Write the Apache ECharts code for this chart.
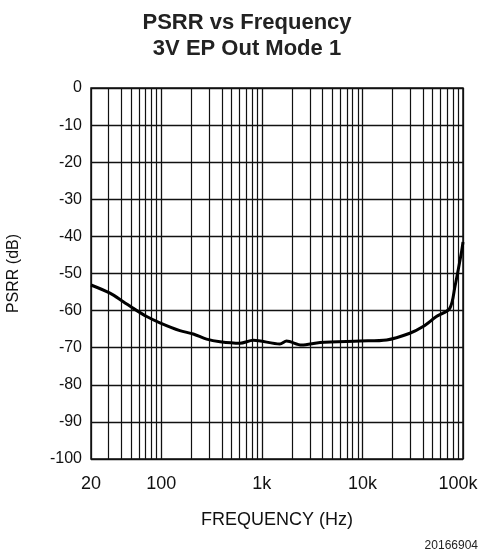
<!DOCTYPE html>
<html><head><meta charset="utf-8">
<script src="https://cdn.jsdelivr.net/npm/echarts@6/dist/echarts.min.js"></script>
<style>html,body{margin:0;padding:0;background:#fff}#c{width:481px;height:559px}</style>
</head><body><div id="c"></div>
<script>
const freq = [20, 30.9, 41.9, 52.7, 71.6, 96.9, 153, 208, 282, 384, 606, 822, 1510, 1761, 2486, 3788, 9420, 17400, 29600, 40100, 54400, 73800, 83200, 96900, 100000];
const psrr = [-53.1, -55.3, -57.6, -59.4, -61.6, -63.3, -65.4, -66.3, -67.7, -68.4, -68.8, -68.0, -69.0, -68.2, -69.3, -68.6, -68.2, -67.9, -66.1, -64.3, -61.6, -59.4, -53.5, -44.0, -41.5];
const minorFreqs = [30,40,50,60,70,80,90,200,300,400,500,600,700,800,900,2000,3000,4000,5000,6000,7000,8000,9000,20000,30000,40000,50000,60000,70000,80000,90000];
const xTickText = {20:'20',100:'100',1000:'1k',10000:'10k',100000:'100k'};
const font = 'Liberation Sans, Arial, Helvetica, sans-serif';

const chart = echarts.init(document.getElementById('c'), null, {renderer:'canvas'});
chart.setOption({
  animation:false,
  backgroundColor:'#fff',
  title:{
    text:'PSRR vs Frequency\n3V EP Out Mode 1',
    left:242, top:5, textAlign:'center',
    textStyle:{fontFamily:font, fontSize:22, fontWeight:'bold', color:'#222', lineHeight:26}
  },
  graphic:[{type:'text', right:3, top:540, style:{text:'20166904', font:'12px '+font, fill:'#222'}}],
  grid:{left:91, right:18, top:88, bottom:100, show:true, borderColor:'#111', borderWidth:1.5,
        containLabel:false, outerBoundsMode:'none'},
  xAxis:{
    type:'log', logBase:10, min:20, max:100000,
    name:'FREQUENCY (Hz)', nameLocation:'middle', nameGap:52,
    nameTextStyle:{fontFamily:font, fontSize:18, color:'#111'},
    axisLine:{show:false}, axisTick:{show:false},
    axisLabel:{fontFamily:font, fontSize:18, color:'#111', margin:16,
      formatter:v=>{const r=Math.round(v); if(r===100000) return '{e|100k}'; return xTickText[r]!==undefined?xTickText[r]:'';},
      rich:{e:{fontFamily:font, fontSize:18, color:'#111', padding:[0,10,0,0]}}},
    splitLine:{show:true, lineStyle:{color:'#111', width:1.3}}
  },
  yAxis:{
    type:'value', min:-100, max:0, interval:10,
    name:'PSRR (dB)', nameLocation:'middle', nameGap:69,
    nameTextStyle:{fontFamily:font, fontSize:16, color:'#111'},
    axisLine:{show:false}, axisTick:{show:false},
    axisLabel:{fontFamily:font, fontSize:16, color:'#111', margin:9},
    splitLine:{show:true, lineStyle:{color:'#111', width:1.3}}
  },
  series:[{
    type:'line', data:freq.map((f,i)=>[f,psrr[i]]), symbol:'none', smooth:0.3,
    lineStyle:{color:'#000', width:3}, z:5,
    markLine:{silent:true, symbol:['none','none'], label:{show:false},
      lineStyle:{color:'#111', width:1.2, type:'solid'},
      data:minorFreqs.map(f=>({xAxis:f}))}
  }]
});
</script></body></html>
